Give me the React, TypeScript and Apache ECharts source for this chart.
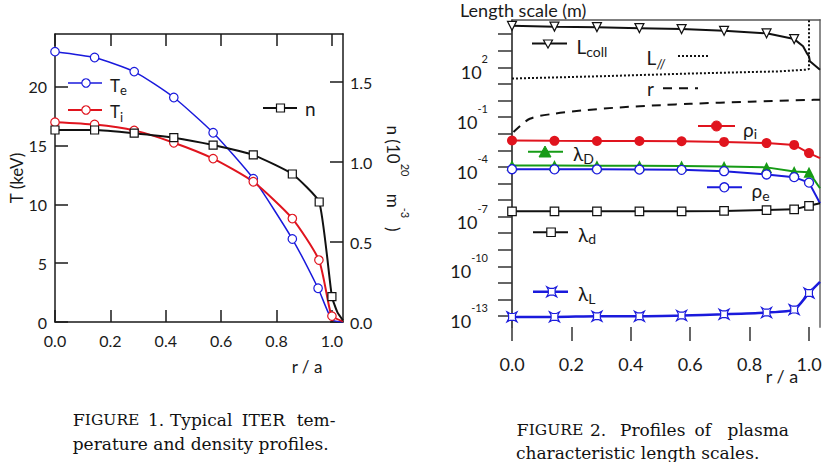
import React, { useEffect, useRef } from "react";
import * as echarts from "echarts";

const FONT = "Lato, 'Open Sans', sans-serif";
const SERIF = "'DejaVu Serif', 'Liberation Serif', serif";
const BLUE = "#1a1adc";
const RED = "#e0141e";
const GREEN = "#169b16";
const BLACK = "#111111";
const AX = "#1a1a1a";

// ---------- Figure 1: temperature (keV) and density (1e20 m^-3) vs r/a ----------
const xTicks1 = [0, 0.2, 0.4, 0.6, 0.8, 1.0];
const tTicks = [0, 5, 10, 15, 20];
const nTicks = [0, 0.5, 1.0, 1.5];

const teR = [0, 0.143, 0.286, 0.429, 0.571, 0.716, 0.857, 0.95, 1.0, 1.04];
const teKeV = [23.0, 22.5, 21.3, 19.1, 16.1, 12.2, 7.06, 2.87, 0.2, 0.0];
const teMarked = [1, 1, 1, 1, 1, 1, 1, 1, 0, 0];

const tiR = [0, 0.143, 0.286, 0.429, 0.571, 0.716, 0.857, 0.953, 0.99, 1.0, 1.04];
const tiKeV = [17.0, 16.8, 16.3, 15.25, 13.9, 11.93, 8.8, 5.27, 1.3, 0.5, 0.05];
const tiMarked = [1, 1, 1, 1, 1, 1, 1, 1, 0, 1, 0];

const nR = [0, 0.143, 0.286, 0.429, 0.571, 0.716, 0.857, 0.954, 1.0, 1.02, 1.04];
const nDens = [1.2, 1.2, 1.18, 1.152, 1.106, 1.044, 0.925, 0.75, 0.158, 0.06, 0.01];
const nMarked = [1, 1, 1, 1, 1, 1, 1, 1, 1, 0, 0];

// ---------- Figure 2: characteristic length scales (m) vs r/a ----------
const xTicks2 = [0, 0.2, 0.4, 0.6, 0.8, 1.0];
const decadeTicks = [-13, -12, -11, -10, -9, -8, -7, -6, -5, -4, -3, -2, -1, 0, 1, 2, 3, 4];
const decadeLabels = [-13, -10, -7, -4, -1, 2];

const rFig2 = [0, 0.143, 0.286, 0.429, 0.571, 0.714, 0.857, 0.95, 1.0, 1.037];
const marked9 = [1, 1, 1, 1, 1, 1, 1, 1, 1, 0];

const lcollR = [0, 0.143, 0.286, 0.429, 0.571, 0.714, 0.857, 0.95, 0.98, 0.992, 1.0, 1.003, 1.037];
const lcollM = [31600, 28200, 26300, 22900, 20000, 15800, 11200, 5000, 1860, 740, 457, 229, 72];
const lcollMarked = [1, 1, 1, 1, 1, 1, 1, 1, 0, 0, 0, 0, 0];

const lparR = [0, 0.3, 0.6, 0.9, 0.99, 1.0, 1.0];
const lparM = [21, 29, 42, 57, 72, 79, 1e6];

const rMinorR = [0.005, 0.06, 0.14, 0.25, 0.36, 0.5, 0.6, 0.8, 1.0, 1.037];
const rMinorM = [0.0126, 0.079, 0.158, 0.263, 0.38, 0.525, 0.63, 0.85, 1.07, 1.12];

const rhoI = [3.9e-3, 3.7e-3, 3.6e-3, 3.6e-3, 3.5e-3, 3.2e-3, 2.7e-3, 2.1e-3, 6.8e-4, 3.4e-4];
const lambdaD = [1.2e-4, 1.2e-4, 1.17e-4, 1.17e-4, 1.12e-4, 1.05e-4, 9.3e-5, 5.2e-5, 4.8e-5, 5.1e-6];
const rhoE = [7.2e-5, 7.1e-5, 7.1e-5, 6.9e-5, 6.6e-5, 5.5e-5, 3.5e-5, 2.4e-5, 1.12e-5, 6.5e-7];
const lambdaDeb = [2.1e-7, 2.1e-7, 2.1e-7, 2.1e-7, 2.1e-7, 2.2e-7, 2.5e-7, 2.75e-7, 4.5e-7, 6.5e-7];
const lambdaL = [9.1e-14, 9.1e-14, 1.0e-13, 1.0e-13, 1.1e-13, 1.32e-13, 1.66e-13, 2.5e-13, 2.5e-12, 1.17e-11];

// ---------- Captions ----------
const caption1Words = ["1.", "Typical", "ITER", "tem-"];
const caption1Line2 = "perature and density profiles.";
const caption2Words = ["2.", "Profiles", "of", "plasma"];
const caption2Line2 = "characteristic length scales.";

function pts(r: number[], v: number[], marked?: number[], log = false) {
  return r.map((x, i) => {
    const item: any = { value: [x, log ? Math.log10(v[i]) : v[i]] };
    if (marked && !marked[i]) item.symbol = "none";
    return item;
  });
}

function subText(x: number, baseY: number, main: string, sub: string, fm: number, fs: number, off = 5, color = "#1a1a1a") {
  const LH = fm / 2 + off + fs / 2;
  return {
    type: "text",
    x,
    y: baseY + (LH - fm) / 2,
    style: {
      text: `{m|${main}}{s|${sub}}`,
      rich: {
        m: { fontSize: fm, fontFamily: FONT, fill: color, color, verticalAlign: "top", lineHeight: LH },
        s: { fontSize: fs, fontFamily: FONT, fill: color, color, verticalAlign: "bottom", lineHeight: LH },
      },
      align: "left",
      textAlign: "left",
      verticalAlign: "middle",
      textVerticalAlign: "middle",
    },
  };
}

function plainText(x: number, y: number, text: string, size: number, align = "left", font = FONT, rotation = 0, color = "#1a1a1a") {
  return {
    type: "text",
    x,
    y,
    rotation,
    style: {
      text,
      fontSize: size,
      fontFamily: font,
      fill: color,
      align,
      textAlign: align,
      verticalAlign: "middle",
      textVerticalAlign: "middle",
    },
  };
}

function hline(x1: number, x2: number, y: number, color: string, width = 2, dash?: number[]) {
  return { type: "line", shape: { x1, y1: y, x2, y2: y }, style: { stroke: color, lineWidth: width, lineDash: dash } };
}

function figureWord(x: number, y: number) {
  return {
    type: "text",
    x,
    y,
    style: {
      text: "{c|F}{sc|IGURE}",
      rich: {
        c: { fontSize: 17.5, fontFamily: SERIF, fill: "#111", color: "#111" },
        sc: { fontSize: 15.5, fontFamily: SERIF, fill: "#111", color: "#111" },
      },
      align: "left",
      textAlign: "left",
      verticalAlign: "middle",
      textVerticalAlign: "middle",
    },
  };
}

function captionLine(y: number, startX: number, words: string[], xs: number[]) {
  const els: any[] = [figureWord(startX, y)];
  words.forEach((w, i) => els.push(plainText(xs[i], y, w, 17, "left", SERIF, 0, "#111")));
  return els;
}

function buildOption(): any {
  const lab = { fontFamily: FONT, color: "#1a1a1a" };
  const lambdaLSymbol = "path://M0,0L3,1.6L7,1.6L10,0L8.4,3L8.4,7L10,10L7,8.4L3,8.4L0,10L1.6,7L1.6,3Z";

  return {
    animation: false,
    backgroundColor: "#ffffff",
    grid: [
      { left: 55, top: 34, width: 288, height: 288 },
      { left: 512, top: 20, width: 308, height: 307 },
    ],
    xAxis: [
      {
        gridIndex: 0, type: "value", position: "bottom", min: 0, max: 1.04,
        axisLine: { show: true, onZero: false, lineStyle: { color: AX, width: 1.5 } },
        axisTick: { show: true, inside: true, length: 12, customValues: xTicks1, lineStyle: { color: AX, width: 1.5 } },
        axisLabel: { ...lab, fontSize: 16, margin: 10, customValues: xTicks1, formatter: (v: number) => v.toFixed(1) },
        splitLine: { show: false },
      },
      {
        gridIndex: 0, type: "value", position: "top", min: 0, max: 1.04,
        axisLine: { show: true, onZero: false, lineStyle: { color: AX, width: 1.5 } },
        axisTick: { show: true, inside: true, length: 12, customValues: xTicks1, lineStyle: { color: AX, width: 1.5 } },
        axisLabel: { show: false },
        splitLine: { show: false },
      },
      {
        gridIndex: 1, type: "value", position: "bottom", min: 0, max: 1.037,
        axisLine: { show: false, onZero: false },
        axisTick: { show: true, inside: false, length: 14, customValues: xTicks2, lineStyle: { color: "#333", width: 1.5 } },
        axisLabel: { ...lab, fontSize: 18, margin: 28, customValues: xTicks2, formatter: (v: number) => v.toFixed(1) },
        splitLine: { show: false },
      },
      {
        gridIndex: 1, type: "value", position: "top", min: 0, max: 1.037,
        axisLine: { show: true, onZero: false, lineStyle: { color: "#555", width: 1.5 } },
        axisTick: { show: false },
        axisLabel: { show: false },
        splitLine: { show: false },
      },
    ],
    yAxis: [
      {
        gridIndex: 0, type: "value", position: "left", min: 0, max: 24.5,
        axisLine: { show: true, onZero: false, lineStyle: { color: AX, width: 1.5 } },
        axisTick: { show: true, inside: true, length: 13, customValues: tTicks, lineStyle: { color: AX, width: 1.5 } },
        axisLabel: { ...lab, fontSize: 16, margin: 8, customValues: tTicks },
        splitLine: { show: false },
      },
      {
        gridIndex: 0, type: "value", position: "right", min: 0, max: 1.8,
        axisLine: { show: true, onZero: false, lineStyle: { color: AX, width: 1.5 } },
        axisTick: { show: true, inside: true, length: 13, customValues: nTicks, lineStyle: { color: AX, width: 1.5 } },
        axisLabel: { ...lab, fontSize: 16, margin: 7, customValues: nTicks, formatter: (v: number) => v.toFixed(1) },
        splitLine: { show: false },
      },
      {
        gridIndex: 1, type: "value", position: "left", min: -13.65, max: 4.85,
        axisLine: { show: true, onZero: false, lineStyle: { color: AX, width: 1.5 } },
        axisTick: { show: true, inside: false, length: 14, customValues: decadeTicks, lineStyle: { color: "#333", width: 1.5 } },
        axisLabel: {
          ...lab, margin: 24, customValues: decadeLabels, lineHeight: 28,
          formatter: (v: number) => `{b|10}{s|${Math.round(v)}}`,
          rich: {
            b: { fontSize: 18, fontFamily: FONT, color: "#1a1a1a", verticalAlign: "bottom", lineHeight: 28 },
            s: { fontSize: 11, fontFamily: FONT, color: "#1a1a1a", verticalAlign: "top", lineHeight: 28 },
          },
        },
        splitLine: { show: false },
      },
      {
        gridIndex: 1, type: "value", position: "right", min: -13.65, max: 4.85,
        axisLine: { show: true, onZero: false, lineStyle: { color: "#8c8c8c", width: 2 } },
        axisTick: { show: false },
        axisLabel: { show: false },
        splitLine: { show: false },
      },
    ],
    series: [
      {
        name: "Te", type: "line", xAxisIndex: 0, yAxisIndex: 0, smooth: 0.2,
        data: pts(teR, teKeV, teMarked), symbol: "circle", symbolSize: 8.5,
        itemStyle: { color: "#fff", borderColor: BLUE, borderWidth: 1.2 },
        lineStyle: { color: BLUE, width: 1.5 },
      },
      {
        name: "Ti", type: "line", xAxisIndex: 0, yAxisIndex: 0, smooth: 0.2,
        data: pts(tiR, tiKeV, tiMarked), symbol: "circle", symbolSize: 8.5,
        itemStyle: { color: "#fff", borderColor: RED, borderWidth: 1.2 },
        lineStyle: { color: RED, width: 2 },
      },
      {
        name: "n", type: "line", xAxisIndex: 0, yAxisIndex: 1, smooth: 0.15,
        data: pts(nR, nDens, nMarked), symbol: "rect", symbolSize: 8,
        itemStyle: { color: "#fff", borderColor: BLACK, borderWidth: 1.2 },
        lineStyle: { color: BLACK, width: 2 },
      },
      {
        name: "Lcoll", type: "line", xAxisIndex: 2, yAxisIndex: 2,
        data: pts(lcollR, lcollM, lcollMarked, true), symbol: "triangle", symbolRotate: 180, symbolSize: 9,
        itemStyle: { color: "#fff", borderColor: BLACK, borderWidth: 1.2 },
        lineStyle: { color: BLACK, width: 2 },
      },
      {
        name: "Lpar", type: "line", xAxisIndex: 2, yAxisIndex: 2, symbol: "none",
        data: pts(lparR, lparM, undefined, true),
        lineStyle: { color: BLACK, width: 2, type: [2, 2] },
      },
      {
        name: "r", type: "line", xAxisIndex: 2, yAxisIndex: 2, symbol: "none", smooth: 0.3,
        data: pts(rMinorR, rMinorM, undefined, true),
        lineStyle: { color: BLACK, width: 2, type: [9, 7] },
      },
      {
        name: "rho_i", type: "line", xAxisIndex: 2, yAxisIndex: 2,
        data: pts(rFig2, rhoI, marked9, true), symbol: "circle", symbolSize: 10,
        itemStyle: { color: RED },
        lineStyle: { color: RED, width: 2 },
      },
      {
        name: "lambda_D", type: "line", xAxisIndex: 2, yAxisIndex: 2,
        data: pts(rFig2, lambdaD, marked9, true), symbol: "triangle", symbolSize: 11,
        itemStyle: { color: GREEN },
        lineStyle: { color: GREEN, width: 2 },
      },
      {
        name: "rho_e", type: "line", xAxisIndex: 2, yAxisIndex: 2,
        data: pts(rFig2, rhoE, marked9, true), symbol: "circle", symbolSize: 9,
        itemStyle: { color: "#fff", borderColor: BLUE, borderWidth: 1.3 },
        lineStyle: { color: BLUE, width: 2 },
      },
      {
        name: "lambda_d", type: "line", xAxisIndex: 2, yAxisIndex: 2,
        data: pts(rFig2, lambdaDeb, marked9, true), symbol: "rect", symbolSize: 8.5,
        itemStyle: { color: "#fff", borderColor: BLACK, borderWidth: 1.2 },
        lineStyle: { color: BLACK, width: 2 },
      },
      {
        name: "lambda_L", type: "line", xAxisIndex: 2, yAxisIndex: 2, smooth: 0.2,
        data: pts(rFig2, lambdaL, marked9, true), symbol: lambdaLSymbol, symbolSize: 10,
        itemStyle: { color: "#fff", borderColor: BLUE, borderWidth: 1.2 },
        lineStyle: { color: BLUE, width: 2.5 },
      },
    ],
    graphic: [
      // Figure 1 legend
      hline(68, 102, 83, BLUE, 1.5),
      { type: "circle", shape: { cx: 86, cy: 83, r: 4.2 }, style: { fill: "#fff", stroke: BLUE, lineWidth: 1.2 } },
      subText(110, 85, "T", "e", 17, 13),
      hline(68, 102, 110, RED, 2),
      { type: "circle", shape: { cx: 86, cy: 110, r: 4.2 }, style: { fill: "#fff", stroke: RED, lineWidth: 1.2 } },
      subText(110, 111.5, "T", "i", 17, 13),
      hline(263, 297, 108, BLACK, 2),
      { type: "rect", shape: { x: 276.5, y: 104, width: 8, height: 8 }, style: { fill: "#fff", stroke: BLACK, lineWidth: 1.2 } },
      plainText(305, 108, "n", 19),
      // Figure 1 axis titles
      plainText(16, 178, "T (keV)", 17, "center", FONT, Math.PI / 2),
      {
        type: "text", x: 397.5, y: 178.5, rotation: -Math.PI / 2,
        style: {
          text: "{b|n (10}{s|20}{b|    m}{s|-3}{b|  )}",
          rich: {
            b: { fontSize: 17, fontFamily: FONT, fill: "#1a1a1a", color: "#1a1a1a", verticalAlign: "bottom", lineHeight: 26 },
            s: { fontSize: 11, fontFamily: FONT, fill: "#1a1a1a", color: "#1a1a1a", verticalAlign: "top", lineHeight: 26 },
          },
          align: "center", textAlign: "center", verticalAlign: "middle", textVerticalAlign: "middle",
        },
      },
      plainText(307, 366, "r / a", 17, "center"),
      // Figure 2 title and axis name
      plainText(460, 10, "Length scale (m)", 18),
      plainText(782, 376, "r / a", 18, "center"),
      // Figure 2 legends
      hline(532, 567, 43.5, BLACK, 2),
      { type: "polygon", shape: { points: [[543.5, 40], [552.5, 40], [548, 48]] }, style: { fill: "#fff", stroke: BLACK, lineWidth: 1.2 } },
      subText(576.5, 46, "L", "coll", 19, 14, 5.5),
      subText(646.5, 57.5, "L", "//", 19, 14, 5.5),
      hline(678, 710, 56, BLACK, 2, [2, 2]),
      plainText(647, 88, "r", 19),
      hline(663, 698, 88.3, BLACK, 2, [9, 7]),
      hline(698, 735, 126, RED, 2),
      { type: "circle", shape: { cx: 716.5, cy: 126, r: 5 }, style: { fill: RED, stroke: RED, lineWidth: 1 } },
      subText(743, 129, "ρ", "i", 19, 14, 4.5),
      hline(528, 563, 151.7, GREEN, 2),
      { type: "polygon", shape: { points: [[539, 157], [551, 157], [545, 146]] }, style: { fill: GREEN, stroke: GREEN, lineWidth: 1 } },
      subText(573, 153.3, "λ", "D", 19, 14, 5.5),
      hline(707, 742, 187.3, BLUE, 2),
      { type: "circle", shape: { cx: 724.3, cy: 187.3, r: 4.5 }, style: { fill: "#fff", stroke: BLUE, lineWidth: 1.3 } },
      subText(751.5, 190.5, "ρ", "e", 19, 14, 5),
      hline(533, 568, 232.3, BLACK, 2),
      { type: "rect", shape: { x: 546.8, y: 228, width: 8.5, height: 8.5 }, style: { fill: "#fff", stroke: BLACK, lineWidth: 1.2 } },
      subText(578, 234, "λ", "d", 19, 14, 4.5),
      hline(533, 568, 291.7, BLUE, 2.5),
      {
        type: "polygon",
        shape: { points: [[546.7, 286.7], [549.7, 288.3], [553.7, 288.3], [556.7, 286.7], [555.1, 289.7], [555.1, 293.7], [556.7, 296.7], [553.7, 295.1], [549.7, 295.1], [546.7, 296.7], [548.3, 293.7], [548.3, 289.7]] },
        style: { fill: "#fff", stroke: BLUE, lineWidth: 1.2 },
      },
      subText(578, 293.3, "λ", "L", 19, 14, 5),
      // Captions (justified first lines)
      ...captionLine(420, 72.7, caption1Words, [148, 170, 241.7, 296.7]),
      plainText(72.7, 443.5, caption1Line2, 17, "left", SERIF, 0, "#111"),
      ...captionLine(430, 516.5, caption2Words, [590, 620, 694.5, 727.5]),
      plainText(516, 453, caption2Line2, 17, "left", SERIF, 0, "#111"),
    ],
  };
}

export default function App() {
  const ref = useRef<HTMLDivElement>(null);
  useEffect(() => {
    if (!ref.current) return;
    const chart = echarts.init(ref.current, null, { renderer: "svg" });
    chart.setOption(buildOption());
    return () => chart.dispose();
  }, []);
  return (
    <div
      ref={ref}
      style={{ position: "absolute", left: 0, top: 0, width: 834, height: 462, background: "#fff" }}
    />
  );
}
